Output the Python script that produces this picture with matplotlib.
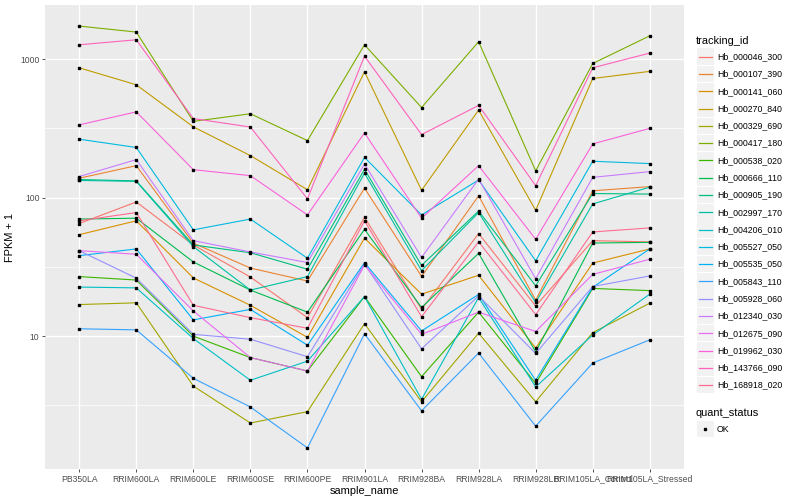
import matplotlib
matplotlib.use('Agg')
import matplotlib.pyplot as plt
import numpy as np
from matplotlib.patches import Rectangle
from matplotlib.lines import Line2D

plt.rcParams['font.family'] = ['Liberation Sans', 'DejaVu Sans']

samples = ['PB350LA', 'RRIM600LA', 'RRIM600LE', 'RRIM600SE', 'RRIM600PE',
           'RRIM901LA', 'RRIM928BA', 'RRIM928LA', 'RRIM928LB',
           'RRIM105LA_Control', 'RRIM105LA_Stressed']

tracking_ids = ['Hb_000046_300', 'Hb_000107_390', 'Hb_000141_060', 'Hb_000270_840',
                'Hb_000329_690', 'Hb_000417_180', 'Hb_000538_020', 'Hb_000666_110',
                'Hb_000905_190', 'Hb_002997_170', 'Hb_004206_010', 'Hb_005527_050',
                'Hb_005535_050', 'Hb_005843_110', 'Hb_005928_060', 'Hb_012340_030',
                'Hb_012675_090', 'Hb_019962_030', 'Hb_143766_090', 'Hb_168918_020']

# FPKM + 1 per sample (order as samples)
hb_000046_300 = [65, 93, 45.5, 26.7, 13.6, 72, 15.6, 55, 16.5, 48.9, 47.9]
hb_000107_390 = [138, 170, 46.9, 31, 25, 117, 27, 103, 18.2, 112, 120]
hb_000141_060 = [54, 68, 26.3, 16.7, 9.8, 51, 20.1, 27.5, 8.2, 33.7, 42.6]
hb_000270_840 = [865, 652, 324, 201, 114, 809, 113, 428, 81, 724, 815]
hb_000329_690 = [16.9, 17.4, 4.36, 2.36, 2.85, 12.3, 3.36, 10.5, 3.36, 10.6, 17.3]
hb_000417_180 = [1730, 1567, 355, 403, 258, 1268, 447, 1334, 156, 929, 1472]
hb_000538_020 = [26.9, 25.4, 10, 7.0, 5.6, 19.3, 5.1, 14.9, 4.56, 22.1, 21.3]
hb_000666_110 = [70, 71, 34.3, 21.5, 14.9, 59, 16.1, 39.6, 7.7, 47, 47.5]
hb_000905_190 = [135, 132, 45.5, 40, 30.4, 160, 32.4, 80, 23.1, 107, 106]
hb_002997_170 = [133, 131, 44.3, 21.5, 26.9, 150, 29.7, 78, 17.5, 90, 119]
hb_004206_010 = [22.6, 22.3, 9.6, 4.8, 6.6, 19.3, 3.5, 19.0, 4.3, 10.2, 20.1]
hb_005527_050 = [264, 230, 58.5, 70, 36.5, 195, 75, 134, 35, 183, 176]
hb_005535_050 = [38.1, 42.6, 13.1, 15.6, 8.6, 33.9, 10.9, 20, 4.8, 22.5, 42.6]
hb_005843_110 = [11.3, 11.1, 4.96, 3.08, 1.56, 10.4, 2.89, 7.55, 2.24, 6.4, 9.4]
hb_005928_060 = [41.4, 26.2, 10.3, 9.5, 7.1, 33.2, 8.1, 19.5, 7.5, 22.8, 27.2]
hb_012340_030 = [142, 188, 48.9, 40.5, 34, 175, 37, 136, 26, 140, 154]
hb_012675_090 = [41.4, 39, 15.2, 7.0, 5.6, 32.6, 10.3, 14.9, 10.8, 27.9, 35.9]
hb_019962_030 = [335, 416, 159, 144, 75, 293, 71, 170, 50, 244, 316]
hb_143766_090 = [1268, 1378, 372, 323, 98, 1050, 285, 463, 122, 865, 1105]
hb_168918_020 = [68, 78, 16.7, 13.6, 11.4, 68, 13.8, 48, 14.3, 56.5, 60.4]

series = [hb_000046_300, hb_000107_390, hb_000141_060, hb_000270_840, hb_000329_690,
          hb_000417_180, hb_000538_020, hb_000666_110, hb_000905_190, hb_002997_170,
          hb_004206_010, hb_005527_050, hb_005535_050, hb_005843_110, hb_005928_060,
          hb_012340_030, hb_012675_090, hb_019962_030, hb_143766_090, hb_168918_020]

# ggplot2 hue palette, 20 levels
colors = ['#F8766D', '#EA8331', '#D89000', '#C09B00', '#A3A500', '#7CAE00', '#39B600',
          '#00BB4E', '#00BF7D', '#00C1A3', '#00BFC4', '#00BAE0', '#00B0F6', '#35A2FF',
          '#9590FF', '#C77CFF', '#E76BF3', '#FA62DB', '#FF62BC', '#FF6C91']

W, H = 800, 500
fig = plt.figure(figsize=(W / 100, H / 100), dpi=100)
ax = fig.add_axes([45 / W, 1 - 469 / H, (684 - 45) / W, (469 - 5) / H])
ax.set_facecolor('#EBEBEB')

x = np.arange(len(samples))
for vals, col in zip(series, colors):
    ax.plot(x, vals, color=col, lw=0.8, zorder=3)
for vals in series:
    ax.plot(x, vals, ls='none', marker='s', ms=2.1, color='black', zorder=4)

ax.set_yscale('log')
allv = np.concatenate([np.array(s, float) for s in series])
lo, hi = np.log10(allv.min()), np.log10(allv.max())
pad = 0.05 * (hi - lo)
ax.set_ylim(10 ** (lo - pad), 10 ** (hi + pad))
ax.set_xlim(-0.6, len(samples) - 0.4)

ax.set_yticks([10, 100, 1000])
ax.set_yticklabels(['10', '100', '1000'])
ax.yaxis.set_minor_locator(matplotlib.ticker.FixedLocator([10 ** 0.5, 10 ** 1.5, 10 ** 2.5]))
ax.yaxis.set_minor_formatter(matplotlib.ticker.NullFormatter())
ax.set_xticks(x)
ax.set_xticklabels(samples)

ax.grid(True, which='major', color='white', lw=1.0, zorder=0)
ax.grid(True, which='minor', axis='y', color='white', lw=0.5, zorder=0)
ax.set_axisbelow(True)
for s in ax.spines.values():
    s.set_visible(False)
ax.tick_params(axis='both', which='major', length=2.2, width=0.6, color='#333333',
               labelsize=6.2, labelcolor='#4D4D4D', pad=1.8)
ax.tick_params(axis='y', which='minor', length=0)

ax.set_xlabel('sample_name', fontsize=7.9, labelpad=2)
ax.set_ylabel('FPKM + 1', fontsize=7.9, labelpad=4)

# legend drawn ggplot-style
def fx(px):
    return px / W

def fy(py):
    return 1 - py / H

fig.text(fx(696), fy(41.5), 'tracking_id', fontsize=7.9, va='center', ha='left')
step = 17.28
for i, (tid, col) in enumerate(zip(tracking_ids, colors)):
    top = 48.5 + i * step
    fig.add_artist(Rectangle((fx(697), fy(top + 16.5)), 16.5 / W, 16.5 / H,
                             facecolor='#F2F2F2', edgecolor='none', transform=fig.transFigure))
    cy = top + 8.25
    fig.add_artist(Line2D([fx(699), fx(712)], [fy(cy), fy(cy)], color=col, lw=0.9,
                          transform=fig.transFigure))
    fig.text(fx(717), fy(cy), tid, fontsize=6.3, va='center', ha='left')

fig.text(fx(696), fy(412.5), 'quant_status', fontsize=7.9, va='center', ha='left')
fig.add_artist(Rectangle((fx(697), fy(437)), 16.5 / W, 16.5 / H,
                         facecolor='#F2F2F2', edgecolor='none', transform=fig.transFigure))
fig.add_artist(Line2D([fx(705.3)], [fy(429)], ls='none', marker='s', ms=2.1, color='black',
                      transform=fig.transFigure))
fig.text(fx(717), fy(429), 'OK', fontsize=6.3, va='center', ha='left')

fig.savefig('out.png', dpi=100)
